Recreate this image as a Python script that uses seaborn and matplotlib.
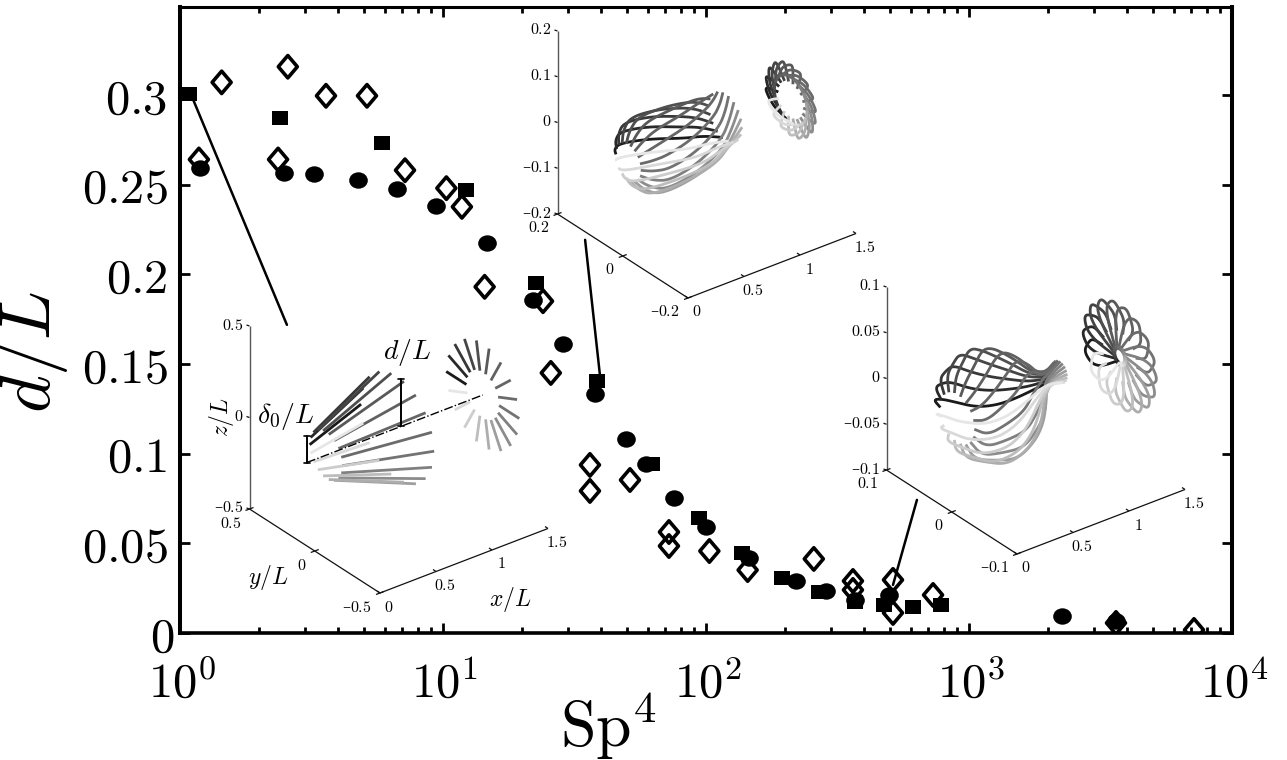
import numpy as np
import pandas as pd
import seaborn as sns
import matplotlib.pyplot as plt
from matplotlib.markers import MarkerStyle
from matplotlib.transforms import Affine2D, ScaledTranslation

# measured points, Sp^4 and d/L
SQUARE_X = [1.08, 2.40, 5.86, 12.2, 22.6, 38.5, 62.3, 94, 137, 194, 269, 369, 475, 612, 783]
SQUARE_Y = [0.3006, 0.287, 0.273, 0.247, 0.195, 0.1405, 0.094, 0.064, 0.0446, 0.0307, 0.0229,
            0.0173, 0.0156, 0.0145, 0.0156]
CIRCLE_X = [1.19, 2.49, 3.23, 4.75, 6.68, 9.4, 14.7, 22, 28.6, 37.8, 49.6, 59.1, 75.5, 100,
            146, 220, 286, 369, 496, 2258, 3622]
CIRCLE_Y = [0.259, 0.2566, 0.256, 0.2527, 0.2476, 0.238, 0.2175, 0.1857, 0.161, 0.133, 0.108,
            0.094, 0.0753, 0.059, 0.0418, 0.029, 0.0234, 0.0184, 0.0212, 0.0095, 0.0067]
DIAMOND_X = [1.44, 1.18, 2.57, 3.59, 5.14, 2.36, 7.17, 10.3, 11.8, 14.4, 24, 25.7, 36.2, 36.2,
             51.4, 72.3, 72.3, 103, 144, 257, 362, 362, 514, 514, 730, 3622, 7170]
DIAMOND_Y = [0.307, 0.264, 0.3157, 0.2995, 0.2995, 0.264, 0.258, 0.248, 0.2376, 0.193, 0.185,
             0.145, 0.0937, 0.0792, 0.0853, 0.0563, 0.0485, 0.0457, 0.0351, 0.0413, 0.029,
             0.024, 0.0296, 0.0112, 0.0212, 0.0056, 0.0017]

# leader lines from points to insets
LEADER_X = [[1.11, 2.55], [34.7, 39.5], [634, 514]]
LEADER_Y = [[0.299, 0.1718], [0.2192, 0.1439], [0.0742, 0.0268]]

YTICKS = [0, 0.05, 0.1, 0.15, 0.2, 0.25, 0.3]
YTICK_LABELS = ["$0$", "$0.05$", "$0.1$", "$0.15$", "$0.2$", "$0.25$", "$0.3$"]
XTICKS = [1, 10, 100, 1000, 10000]
XTICK_LABELS = ["$10^{0}$", "$10^{1}$", "$10^{2}$", "$10^{3}$", "$10^{4}$"]

# filament at 18 phases, each curve is x/L, radius and twist along its length
PHASES = [0, 20, 40, 60, 80, 100, 120, 140, 160, 180, 200, 220, 240, 260, 280, 300, 320, 340]
GRAYS = [0.1, 0.16, 0.22, 0.27, 0.31, 0.35, 0.38, 0.4, 0.42, 0.45, 0.5, 0.55, 0.62, 0.68, 0.74,
         0.8, 0.85, 0.9]

ROD_X = [0.1, 0.74]
ROD_R = [0.125, 0.28]
ROD_TWIST = [0, 0]
ROD_SHIFT = [0, 0]

BULGE_X = [0.05, 0.1, 0.2, 0.45, 0.7, 0.82, 0.92]
BULGE_R = [0.038, 0.06, 0.078, 0.075, 0.065, 0.053, 0.05]
BULGE_TWIST = [0, -3, -6, -15, -34, -52, -80]
BULGE_SHIFT = [0, 0, 0, 0, 0.003, 0.012, 0.018]

LOOP_X = [0.05, 0.08, 0.2, 0.33, 0.47, 0.58, 0.67, 0.76, 0.86, 0.97]
LOOP_R = [0.026, 0.042, 0.05, 0.058, 0.052, 0.042, 0.03, 0.014, 0.006, 0.011]
LOOP_TWIST = [0, 0, -10, -20, -32, -38, -42, -50, -75, -90]
LOOP_SHIFT = [0, 0, 0, 0, 0, 0, 0.001, 0.003, 0.006, 0.008]

# y/L and z/L half ranges, axis foot in figure pixels
INSETS = [
    {"foot": (380, 593), "span": 0.5, "z_ticks": [0.5, 0, -0.5], "z_labels": ["$0.5$", "$0$", "–$0.5$"],
     "y_labels": ["$0.5$", "$0$", "–$0.5$"]},
    {"foot": (688, 298), "span": 0.2, "z_ticks": [0.2, 0.1, 0, -0.1, -0.2],
     "z_labels": ["$0.2$", "$0.1$", "$0$", "–$0.1$", "–$0.2$"], "y_labels": ["$0.2$", "$0$", "–$0.2$"]},
    {"foot": (1017, 554), "span": 0.1, "z_ticks": [0.1, 0.05, 0, -0.05, -0.1],
     "z_labels": ["$0.1$", "$0.05$", "$0$", "–$0.05$", "–$0.1$"], "y_labels": ["$0.1$", "$0$", "–$0.1$"]},
]
X_TICKS_3D = [0, 0.5, 1, 1.5]
X_LABELS_3D = ["$0$", "$0.5$", "$1$", "$1.5$"]

# bars in the first inset: x/L, z/L
AXIS_LINE_X = [-0.07, 1.5]
DELTA_BAR = (-0.07, 0.146)
D_BAR = (0.77, 0.26)


def project(foot, span, x, y, z):
    x, y, z = np.asarray(x, float), np.asarray(y, float), np.asarray(z, float)
    px = foot[0] + 112 * x - 130.5 * (y + span) / (2 * span)
    py = foot[1] - 43 * x - 84 * (y + span) / (2 * span) - 183 * (z + span) / (2 * span)
    return px, py


def smooth(px, py, rounds=3):
    # corner cutting so few read points still draw as a curve
    for _ in range(rounds):
        if len(px) < 3:
            break
        px = np.r_[px[0], np.c_[0.75 * px[:-1] + 0.25 * px[1:], 0.25 * px[:-1] + 0.75 * px[1:]].ravel(), px[-1]]
        py = np.r_[py[0], np.c_[0.75 * py[:-1] + 0.25 * py[1:], 0.25 * py[:-1] + 0.75 * py[1:]].ravel(), py[-1]]
    return px, py


def draw_frame(ov, inset):
    foot, span = inset["foot"], inset["span"]
    line = dict(color="#111111", lw=0.9, solid_capstyle="butt")
    # z, y and x axis lines
    px, py = project(foot, span, [0, 0], [span, span], [-span, span])
    ov.plot(px, py, color="#555555", lw=1.0, solid_capstyle="butt")
    px, py = project(foot, span, [0, 0], [span, -span], [-span, -span])
    ov.plot(px, py, **line)
    px, py = project(foot, span, [0, 1.5], [-span, -span], [-span, -span])
    ov.plot(px, py, **line)
    for val, lab in zip(inset["z_ticks"], inset["z_labels"]):
        px, py = project(foot, span, 0, span, val)
        ov.plot([px, px - 3], [py, py - 1], **line)
        ov.text(px - 6, py - 1, lab, ha="right", va="center", fontsize=11.5)
    for val, lab in zip([span, 0, -span], inset["y_labels"]):
        px, py = project(foot, span, 0, val, -span)
        ov.plot([px - 4, px + 4], [py + 1.5, py - 1.5], **line)
        ov.text(px - 8, py + 14, lab, ha="right", va="center", fontsize=11.5)
    for val, lab in zip(X_TICKS_3D, X_LABELS_3D):
        px, py = project(foot, span, val, -span, -span)
        ov.plot([px, px - 3], [py, py - 2], **line)
        ov.text(px + 9, py + 14, lab, ha="center", va="center", fontsize=11.5)


def draw_filaments(ov, inset, xs, rs, twist, shift, lw):
    foot, span = inset["foot"], inset["span"]
    xs, rs, twist, shift = np.array(xs), np.array(rs), np.array(twist), np.array(shift)
    for phase, gray in zip(PHASES, GRAYS):
        ang = np.radians(phase + twist)
        y, z = rs * np.cos(ang), rs * np.sin(ang)
        px, py = smooth(*project(foot, span, xs, y, z + shift))
        ov.plot(px, py, color=str(gray), lw=lw, solid_capstyle="butt")
        # same curve seen on the wall at x/L = 1.5
        px, py = smooth(*project(foot, span, 1.5 + 0 * xs, y, z))
        ov.plot(px, py, color=str(gray), lw=lw, solid_capstyle="butt")


sns.set_theme(style="ticks", rc={"text.color": "black", "axes.edgecolor": "black", "axes.labelcolor": "black",
                                 "xtick.color": "black", "ytick.color": "black"})
plt.rcParams["mathtext.fontset"] = "cm"
plt.rcParams["font.family"] = ["DejaVu Serif"]

fig = plt.figure(figsize=(12.87, 7.6), dpi=100)
ax = fig.add_axes([180 / 1287, (760 - 633) / 760, 1052 / 1287, 626 / 760])

squares = pd.DataFrame({"sp": SQUARE_X, "d": SQUARE_Y})
circles = pd.DataFrame({"sp": CIRCLE_X, "d": CIRCLE_Y})
diamonds = pd.DataFrame({"sp": DIAMOND_X, "d": DIAMOND_Y})

sns.scatterplot(data=diamonds, x="sp", y="d", marker=MarkerStyle("D", transform=Affine2D().scale(0.85, 1)),
                s=130, facecolor="none", edgecolor="black", linewidth=2.6, ax=ax, zorder=2.5)
sns.scatterplot(data=squares, x="sp", y="d", marker=MarkerStyle("s", transform=Affine2D().scale(1, 0.88)),
                s=130, color="black", linewidth=0, ax=ax, zorder=3)
sns.scatterplot(data=circles, x="sp", y="d", marker=MarkerStyle("o", transform=Affine2D().scale(1, 0.88)),
                s=180, color="black", linewidth=0, ax=ax, zorder=3)

for lx, ly in zip(LEADER_X, LEADER_Y):
    ax.plot(lx, ly, color="black", lw=1.8, zorder=5)

ax.set_xscale("log")
ax.set_xlim(1, 10000)
ax.set_ylim(0, 0.349)
ax.set_xticks(XTICKS)
ax.set_xticklabels(XTICK_LABELS, fontsize=35)
ax.set_yticks(YTICKS)
ax.set_yticklabels(YTICK_LABELS, fontsize=35)
ax.tick_params(which="major", direction="in", top=True, right=True, length=7.2, width=2, pad=9)
ax.tick_params(which="minor", direction="in", top=True, right=True, length=4, width=2)
ax.tick_params(axis="x", which="major", pad=20)

# tick label nudges, in pixels
for lab in ax.get_xticklabels():
    lab.set_transform(lab.get_transform() + ScaledTranslation(2 / 100, 0, fig.dpi_scale_trans))
zero_lab = ax.get_yticklabels()[0]
zero_lab.set_transform(zero_lab.get_transform() + ScaledTranslation(7 / 100, 0, fig.dpi_scale_trans))

ax.set_xlabel(r"$\mathrm{Sp}^4$", fontsize=46)
ax.xaxis.set_label_coords(0.407, -0.091)
ax.set_ylabel(r"$d/L$", fontsize=52)
ax.yaxis.set_label_coords(-0.105, 0.449)
ax.spines["left"].set_linewidth(2.9)
ax.spines["right"].set_linewidth(2.9)
ax.spines["top"].set_linewidth(2.2)
ax.spines["bottom"].set_linewidth(2.6)

# insets are projected by hand onto an overlay in pixel units
ov = fig.add_axes([0, 0, 1, 1], facecolor="none")
ov.set_xlim(0, 1287)
ov.set_ylim(760, 0)
ov.axis("off")

for inset in INSETS:
    draw_frame(ov, inset)
draw_filaments(ov, INSETS[0], ROD_X, ROD_R, ROD_TWIST, ROD_SHIFT, 2.0)
draw_filaments(ov, INSETS[1], BULGE_X, BULGE_R, BULGE_TWIST, BULGE_SHIFT, 2.0)
draw_filaments(ov, INSETS[2], LOOP_X, LOOP_R, LOOP_TWIST, LOOP_SHIFT, 2.0)

# annotations of the first inset
foot, span = INSETS[0]["foot"], INSETS[0]["span"]
px, py = project(foot, span, AXIS_LINE_X, [0, 0], [0, 0])
ov.plot(px, py, color="black", lw=1.0, ls="-.")
for bar_x, bar_z in (DELTA_BAR, D_BAR):
    px, py = project(foot, span, [bar_x, bar_x], [0, 0], [0, bar_z])
    ov.plot(px, py, color="black", lw=1.4)
    ov.plot([px[0] - 3, px[0] + 3], [py[0], py[0]], color="black", lw=1.2)
    ov.plot([px[1] - 3, px[1] + 3], [py[1], py[1]], color="black", lw=1.2)

ov.text(407, 353, r"$d/L$", ha="center", va="center", fontsize=20)
ov.text(286, 417, r"$\delta_0/L$", ha="center", va="center", fontsize=20)
ov.text(221, 417, r"$z/L$", ha="center", va="center", fontsize=17, rotation=90)
ov.text(268, 577, r"$y/L$", ha="center", va="center", fontsize=17)
ov.text(510, 600, r"$x/L$", ha="center", va="center", fontsize=17)

fig.savefig("out.png", dpi=100)
